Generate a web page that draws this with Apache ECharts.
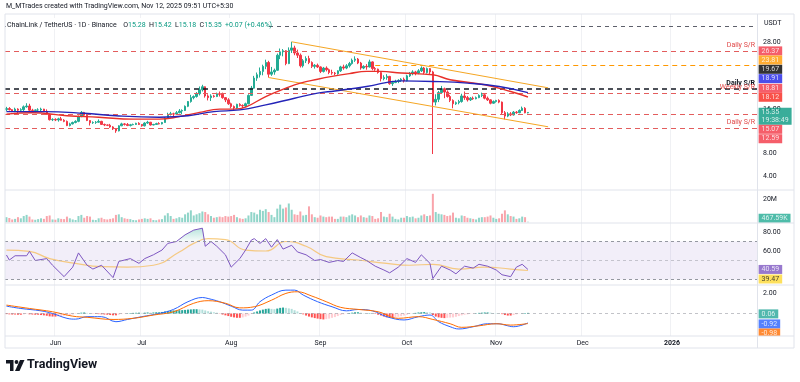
<!DOCTYPE html>
<html><head><meta charset="utf-8">
<script src="https://cdn.jsdelivr.net/npm/echarts@6/dist/echarts.min.js"></script>
<style>html,body{margin:0;padding:0;background:#fff}#c{width:800px;height:382px}</style>
</head><body><div id="c"></div>
<script>
// ---------- DATA ----------
const startDate = '2025-05-15';
const totalDays = 261; // category slots May 15 2025 -> Jan 30 2026
// [open, high, low, close] daily candles May 15 .. Nov 12 2025
const ohlc = [
[15.85,16.35,15.6,16.05],[16.05,16.3,15.7,15.85],[15.85,15.95,15.4,15.6],[15.6,16.2,15.4,15.95],[15.95,16.1,15.2,15.75],
[15.75,16.1,15.5,15.85],[15.85,16.6,15.6,16.35],[16.35,17.0,16.2,16.5],[16.5,16.9,15.6,15.75],[15.75,16.0,15.5,15.7],
[15.7,15.9,15.3,15.8],[15.8,16.1,15.6,15.8],[15.8,16.2,15.5,15.95],[15.95,16.0,15.4,15.55],[15.55,15.9,14.9,15.0],
[15.0,15.1,13.9,14.05],[14.05,14.3,13.8,14.1],
[14.1,14.3,13.8,14.0],[14.0,14.4,13.7,14.2],[14.2,14.55,13.9,13.95],[13.95,14.15,13.6,13.75],[13.75,13.9,12.9,13.0],
[13.0,13.5,12.85,13.3],[13.3,13.7,13.2,13.55],[13.55,13.95,13.4,13.75],[13.75,14.8,13.6,14.6],[14.6,15.6,14.5,15.35],
[15.35,15.45,14.7,14.85],[14.85,14.95,13.8,13.9],[13.9,13.95,13.0,13.5],[13.5,13.75,13.3,13.55],[13.55,13.8,13.3,13.6],
[13.6,14.1,13.5,13.75],[13.75,13.85,13.1,13.2],[13.2,13.35,12.9,13.1],[13.1,13.2,12.9,13.05],[13.05,13.3,12.6,12.75],
[12.75,12.9,12.2,12.4],[12.4,12.5,11.7,12.05],[12.05,13.05,11.95,12.95],[12.95,13.5,12.9,13.3],[13.3,13.45,13.0,13.2],
[13.2,13.45,12.9,13.0],[13.0,13.3,12.85,13.15],[13.15,13.35,13.05,13.2],[13.2,13.5,13.1,13.4],[13.4,13.6,13.1,13.2],
[13.2,13.25,12.8,12.95],[12.95,13.6,12.85,13.45],[13.45,13.85,13.3,13.6],[13.6,13.65,13.0,13.1],[13.1,13.3,13.05,13.2],
[13.2,13.5,13.1,13.35],[13.35,13.6,13.2,13.3],[13.3,13.65,13.2,13.55],[13.55,14.5,13.5,14.35],[14.35,15.3,14.2,15.0],
[15.0,15.45,14.8,15.1],[15.1,15.3,14.7,15.05],[15.05,15.6,14.9,15.3],[15.3,15.95,15.2,15.6],[15.6,15.9,15.0,15.7],
[15.7,16.6,15.6,16.45],[16.45,17.4,16.3,17.3],[17.3,18.5,17.1,18.0],[18.0,18.4,17.7,18.2],[18.2,19.0,18.0,18.7],
[18.7,20.0,18.4,19.4],[19.4,20.3,19.1,19.95],[19.95,20.0,18.0,18.3],[18.3,18.6,17.5,18.0],[18.0,18.6,17.4,18.3],
[18.3,18.5,18.0,18.2],[18.2,18.9,18.1,18.7],[18.7,19.1,18.2,18.6],[18.6,18.9,17.8,18.0],[18.0,18.1,17.2,17.6],
[17.6,17.9,16.7,16.9],
[16.9,17.1,16.1,16.4],[16.4,16.6,15.8,16.15],[16.15,16.9,16.0,16.8],[16.8,17.0,16.4,16.6],[16.6,16.8,16.1,16.5],
[16.5,17.1,16.3,16.9],[16.9,18.6,16.8,18.4],[18.4,20.1,18.3,19.7],[19.7,21.9,19.6,21.5],[21.5,22.5,21.0,22.1],
[22.1,23.4,21.6,22.7],[22.7,23.9,22.0,23.6],[23.6,24.8,23.1,24.3],[24.3,24.6,21.6,22.2],[22.2,23.5,21.9,22.6],
[22.6,23.2,22.1,22.9],[22.9,25.9,22.8,25.6],[25.6,26.8,24.9,26.2],[26.2,26.7,25.4,26.4],[26.4,26.5,23.8,24.1],
[24.1,27.0,24.0,26.5],[26.5,28.0,26.0,26.9],[26.9,27.3,25.6,26.0],[26.0,26.6,25.1,25.6],[25.6,25.9,23.4,23.7],
[23.7,24.9,23.4,24.6],[24.6,25.4,24.2,25.0],[25.0,25.5,24.0,24.3],[24.3,24.5,23.3,23.6],[23.6,24.0,23.2,23.8],
[23.8,24.1,23.3,23.5],
[23.5,23.6,22.4,22.7],[22.7,23.5,22.5,23.3],[23.3,23.6,22.7,23.0],[23.0,23.2,22.2,22.5],[22.5,23.0,22.1,22.4],
[22.4,22.6,22.0,22.3],[22.3,22.9,22.1,22.8],[22.8,23.7,22.6,23.5],[23.5,23.9,23.0,23.3],[23.3,24.0,23.1,23.7],
[23.7,24.4,23.4,24.1],[24.1,25.0,23.9,24.7],[24.7,25.4,24.4,24.9],[24.9,25.1,24.0,24.2],[24.2,24.4,23.0,23.3],
[23.3,23.8,23.1,23.6],[23.6,24.0,23.0,23.5],[23.5,24.8,23.4,24.4],[24.4,24.5,22.9,23.2],[23.2,23.5,22.8,23.1],
[23.1,23.2,22.3,22.5],[22.5,22.6,20.9,21.4],[21.4,22.0,21.1,21.6],[21.6,22.2,21.2,21.8],[21.8,21.9,20.3,20.5],
[20.5,21.0,20.1,20.7],[20.7,21.2,20.6,20.9],[20.9,21.3,20.6,21.1],[21.1,21.5,20.8,21.3],[21.3,21.6,20.7,21.0],
[21.0,22.1,20.9,21.9],[21.9,22.6,21.7,22.3],[22.3,22.9,22.0,22.6],[22.6,22.8,22.0,22.4],[22.4,23.1,22.2,22.8],
[22.8,23.6,22.6,23.3],[23.3,23.5,22.2,22.5],[22.5,23.4,22.3,23.2],[23.2,23.3,22.1,22.6],[22.6,22.8,7.9,17.2],
[17.2,18.6,16.6,17.7],[17.7,19.2,17.2,18.9],[18.9,20.1,18.7,19.6],[19.6,19.8,17.9,19.0],[19.0,19.3,18.0,18.2],
[18.2,18.5,17.2,17.5],[17.5,17.7,16.1,16.9],[16.9,17.3,16.7,17.1],[17.1,17.6,16.8,17.3],[17.3,18.7,17.1,18.3],
[18.3,19.1,17.6,18.0],[18.0,18.3,17.3,17.6],[17.6,18.1,17.4,17.9],[17.9,18.2,17.6,17.8],[17.8,18.2,17.7,18.0],
[18.0,18.6,17.9,18.4],[18.4,18.9,18.1,18.5],[18.5,18.7,17.7,17.9],[17.9,18.2,17.4,17.6],[17.6,17.7,16.8,17.0],
[17.0,17.5,16.9,17.3],
[17.3,17.6,17.1,17.5],[17.5,17.7,17.0,17.2],[17.2,17.3,15.0,15.3],[15.3,15.6,14.1,14.7],[14.7,15.4,14.5,15.1],
[15.1,15.4,14.7,14.9],[14.9,15.6,14.8,15.4],[15.4,15.6,15.1,15.3],[15.3,15.9,15.2,15.7],[15.7,16.4,15.6,16.1],
[16.1,16.3,15.2,15.28],[15.28,15.42,15.18,15.35]
];
// daily volume (millions of LINK)
const volumeM = [
4.5,3.8,2.5,3.0,4.5,3.5,5.5,6.5,5.0,2.5,2.2,2.8,3.5,3.0,5.5,6.0,2.5,
2.3,3.5,3.0,2.8,5.0,3.5,2.5,2.0,5.5,6.5,4.0,5.5,5.0,2.2,2.0,3.5,4.0,2.8,2.5,3.0,3.5,6.5,7.0,4.5,3.5,3.0,2.8,2.0,1.8,2.5,
3.0,3.5,3.0,3.5,2.0,1.8,2.5,2.8,6.0,8.0,5.5,3.0,3.5,4.5,4.0,7.0,8.5,10.5,6.0,7.0,8.0,9.5,9.0,7.0,5.5,4.0,4.5,5.0,4.5,5.5,5.0,
5.5,6.5,4.5,3.5,3.0,3.5,6.0,9.0,8.5,7.0,11.0,10.0,11.5,9.0,6.5,4.5,12.0,15.5,12.0,13.0,16.5,11.0,7.0,6.5,9.5,6.0,6.5,14.0,7.0,4.5,4.0,
6.0,5.0,4.5,5.0,5.0,3.0,3.0,5.0,5.0,4.5,6.0,7.0,6.0,4.5,6.0,4.5,4.0,6.0,5.5,3.0,3.5,9.0,5.0,4.5,7.5,5.0,3.0,2.5,4.0,4.0,
5.5,4.5,5.0,3.5,4.0,6.0,7.0,5.5,6.0,25.0,9.0,7.5,7.0,6.5,5.5,6.0,8.5,4.0,3.5,6.0,5.5,4.0,3.5,3.0,2.5,4.0,4.5,4.5,5.0,6.0,4.0,
3.0,3.5,7.5,10.5,7.0,5.5,5.0,3.0,3.5,5.0,4.5,0.47
];
// MACD histogram, daily
const histogram = [
-0.06,-0.08,-0.1,-0.1,-0.12,-0.12,-0.08,-0.05,-0.08,-0.1,-0.12,-0.12,
-0.15,-0.18,-0.22,-0.28,-0.3,-0.3,-0.28,-0.25,-0.22,-0.2,
-0.15,-0.1,-0.05,0.02,0.08,0.1,0.06,0.02,-0.02,-0.04,
-0.06,-0.08,-0.1,-0.12,-0.15,-0.18,-0.18,-0.12,
-0.06,-0.02,0.02,0.05,0.06,0.07,0.08,0.06,0.08,0.1,0.08,0.1,
0.12,0.12,0.15,0.2,0.25,0.28,0.3,0.3,0.32,0.33,0.35,0.38,0.4,0.42,0.42,0.4,0.38,
0.3,0.22,0.18,0.12,0.08,
-0.02,-0.1,-0.18,-0.25,-0.32,-0.38,-0.42,-0.42,-0.38,-0.3,-0.2,
-0.05,0.1,0.2,0.3,0.38,0.45,0.48,0.45,0.42,0.48,0.55,0.58,0.55,0.5,0.45,
0.32,0.2,0.05,-0.08,-0.2,-0.3,-0.38,-0.45,-0.5,-0.55,-0.58,-0.55,-0.5,-0.42,-0.35,-0.25,
-0.15,-0.08,-0.02,0.04,0.08,0.12,0.12,0.08,0.04,0.02,0.04,0.02,
-0.05,-0.12,-0.2,-0.3,-0.38,-0.42,-0.42,-0.38,-0.32,-0.26,-0.2,-0.12,-0.05,0.02,
0.06,0.1,0.12,0.14,0.12,0.1,
-0.15,-0.3,-0.38,-0.42,-0.45,-0.42,-0.4,-0.38,-0.32,-0.25,-0.18,-0.12,-0.08,-0.04,-0.02,
0.03,0.06,0.08,0.1,0.1,0.08,0.05,0.03,0.01,
-0.06,-0.15,-0.2,-0.2,-0.15,
-0.08,-0.02,0.02,0.05,0.06
];
// moving averages read at sample days: [dayIndex, value]
const redMA = [[0,15.05],[9,15.3],[21,14.75],[32,14.5],[44,14.15],[53,14.15],[60,14.6],[67,15.35],[74,15.95],[79,15.95],[83,16.3],[90,18.2],[97,19.7],[102,20.6],[108,21.3],[113,21.8],[119,22.3],[125,22.7],[130,22.7],[137,22.4],[148,22.1],[154,21.2],[166,20.3],[175,19.1],[181,18.12]];
const blueMA = [[0,15.5],[13,15.5],[27,15.2],[38,14.75],[53,14.5],[63,14.75],[72,15.5],[81,15.8],[90,16.7],[100,17.9],[108,18.8],[114,19.2],[125,20.0],[137,21.0],[148,20.9],[160,20.6],[171,20.0],[181,18.91]];
const rsiPts = [[0,55.8],[1,50.5],[3,55],[7,55],[8,59.6],[10,50],[14,52],[16,45],[20,33],[23,43],[25,58],[28,45],[30,41],[33,45],[37,32],[39,49],[43,52],[46,47],[48,52],[51,56],[54,61],[56,68],[59,70],[62,77],[65,82],[68,84],[69,65],[71,70],[73,65],[76,56],[78,43],[81,52],[83,61],[85,71.5],[86,73],[88,68],[90,73],[92,64],[94,72],[96,62],[99,66],[101,59],[104,56],[107,50],[109,51],[112,48],[115,50],[117,49],[120,58],[123,53],[125,50],[128,44],[131,40],[133,37],[136,43],[139,52],[142,48],[144,56],[147,47],[148,31],[151,44],[154,40],[156,36],[159,44],[162,42],[164,46],[167,44],[170,40],[172,35],[175,33],[177,43],[179,46],[181,40.59]];
const rsiOverbought = [[59,70],[62,77],[65,82],[68,84],[69,70]];
const rsiMaPts = [[0,61],[8,59.6],[15,52],[24,47],[33,43.5],[42,43],[51,45],[60,59],[65,68],[70,73],[76,72],[83,61],[90,60],[97,70],[104,65],[111,54],[122,50.5],[132,47],[140,45],[148,46],[157,41],[166,43],[175,41],[181,39.47]];
const macdPts = [[0,0.72],[5,0.49],[12,0.26],[16,0],[21,-0.47],[24,-0.55],[28,-0.31],[33,-0.31],[38,-0.8],[42,-0.58],[47,-0.31],[53,0],[58,0.4],[63,1.15],[68,1.56],[70,1.46],[74,1.15],[78,0.72],[82,0.33],[85,0.33],[88,1.15],[92,1.8],[97,2.28],[100,2.28],[103,1.8],[108,1.15],[113,0.66],[118,0.26],[122,0.39],[127,0.26],[132,-0.31],[138,-0.63],[143,-0.31],[147,-0.15],[150,-0.8],[154,-1.29],[157,-1.51],[162,-1.29],[167,-1.0],[171,-1.0],[173,-1.13],[176,-1.29],[181,-0.92]];
const signalPts = [[0,0.82],[8,0.49],[16,0.17],[23,-0.26],[28,-0.37],[37,-0.58],[44,-0.47],[51,-0.15],[58,0.17],[65,1.0],[70,1.25],[76,1.0],[81,0.55],[86,0.66],[92,1.3],[97,1.96],[101,2.12],[106,1.7],[111,1.15],[116,0.6],[122,0.4],[129,0.17],[136,-0.47],[143,-0.31],[148,-0.58],[154,-1.0],[158,-1.35],[164,-1.2],[170,-1.0],[175,-1.13],[181,-0.98]];
// horizontal levels
const levelValues = [30.83, 26.37, 19.67, 18.81, 15.07, 12.59];
const levelNames  = ['', 'Daily S/R', 'Daily S/R', 'Weekly S/R', '', 'Daily S/R'];
const orangeLevel = {from: 128, value: 23.81};
// channel lines [dayIndex, price]
const channelUpper = [[99, 28.0], [188, 19.76]];
const channelLower = [[91, 21.6], [188, 12.78]];
// right-scale tags
const priceTags = [26.37, 23.81, 19.67, 18.91, 18.81, 18.12, 15.35, 15.07, 12.59];
const lastVolume = '467.59K';
const rsiTags = [40.59, 39.47];
const macdTags = [0.06, -0.92, -0.98];
const priceTicks = [28, 16, 8, 4];

// ---------- BUILD ----------
const FONT = 'Roboto, "Noto Sans", sans-serif';
const dates = [];
const d0 = Date.UTC(2025, 4, 15);
for (let i = 0; i < totalDays; i++) dates.push(new Date(d0 + i * 86400000).toISOString().slice(0, 10));
const MON = ['Jan','Feb','Mar','Apr','May','Jun','Jul','Aug','Sep','Oct','Nov','Dec'];
const monthStart = (idx, val) => val.slice(8) === '01';
const pts = arr => arr.map(p => [dates[p[0]], p[1]]);

const UP = '#22ab94', DOWN = '#f23645';
const candleData = ohlc.map(r => [r[0], r[3], r[2], r[1]]);
const volData = volumeM.map((v, i) => ({value: v, itemStyle: {color: ohlc[i][3] >= ohlc[i][0] ? 'rgba(34,171,148,0.5)' : 'rgba(242,54,69,0.45)'}}));
const histData = histogram.map((v, i) => {
  const p = i > 0 ? histogram[i - 1] : v;
  const c = v >= 0 ? (v >= p ? '#26a69a' : '#b2dfdb') : (v <= p ? '#ff5252' : '#ffcdd2');
  return {value: v, itemStyle: {color: c}};
});

const levelStyles = [
  {color: '#5d606b', width: 1, type: [4, 4]},
  {color: '#e35d5d', width: 1, type: [5, 4]},
  {color: '#131722', width: 1.6, type: [5, 4]},
  {color: '#e35d5d', width: 1, type: [5, 4]},
  {color: '#e35d5d', width: 1, type: [5, 4]},
  {color: '#e35d5d', width: 1, type: [5, 4]}
];
const levelLabelStyles = [null,
  {color: '#e04848'}, {color: '#131722', fontWeight: 'bold'}, {color: '#e04848'}, null, {color: '#e04848'}];
const markLineData = levelValues.map((v, i) => {
  const it = {yAxis: v, lineStyle: levelStyles[i]};
  if (levelNames[i]) it.label = Object.assign({show: true, position: 'insideEndTop', distance: 2, formatter: levelNames[i], fontSize: 7, fontFamily: FONT}, levelLabelStyles[i]);
  return it;
});
markLineData.push([{coord: [dates[orangeLevel.from], orangeLevel.value], lineStyle: {color: '#ff9800', width: 1, type: [5, 4]}}, {coord: [dates[totalDays - 1], orangeLevel.value]}]);
markLineData.push([{coord: [dates[channelUpper[0][0]], channelUpper[0][1]], lineStyle: {color: '#f5a623', width: 1, type: 'solid'}}, {coord: [dates[channelUpper[1][0]], channelUpper[1][1]]}]);
markLineData.push([{coord: [dates[channelLower[0][0]], channelLower[0][1]], lineStyle: {color: '#f5a623', width: 1, type: 'solid'}}, {coord: [dates[channelLower[1][0]], channelLower[1][1]]}]);

function tagSeries(xi, yi, items) {
  return {type: 'scatter', xAxisIndex: xi, yAxisIndex: yi, symbolSize: 0.1, silent: true, clip: false, z: 20,
    itemStyle: {color: 'rgba(0,0,0,0)'}, animation: false,
    data: items.map(t => ({value: [dates[totalDays - 1], t.v],
      label: {show: true, position: 'right', distance: 3, formatter: t.text, backgroundColor: t.bg, color: t.fg || '#fff',
        padding: [1, 3, 0, 3], fontSize: 7, fontFamily: FONT, lineHeight: 8, offset: [0, t.dy], align: 'left'}}))};
}
const priceTagStyle = [
  {bg: '#f23645', dy: 0}, {bg: '#ff9800', dy: -5.2}, {bg: '#000000', dy: -19}, {bg: '#1e22e6', dy: -13.9},
  {bg: '#f23645', dy: -4.8}, {bg: '#f7251c', dy: 0.3}, {bg: '#089981', dy: 3.9, extra: '\n19:38:49'},
  {bg: '#f23645', dy: 15.3}, {bg: '#f23645', dy: 10.9}];
const priceTagItems = priceTags.map((v, i) => ({v, text: v.toFixed(2) + (priceTagStyle[i].extra || ''), bg: priceTagStyle[i].bg, dy: priceTagStyle[i].dy}));
const volTagItems = [{v: volumeM[volumeM.length - 1], text: lastVolume, bg: '#22ab94', dy: -3.5}];
const rsiTagItems = [{v: rsiTags[0], text: rsiTags[0].toFixed(2), bg: '#7e57c2', dy: 0}, {v: rsiTags[1], text: rsiTags[1].toFixed(2), bg: '#fdd835', fg: '#131722', dy: 8.5}];
const macdTagItems = [{v: macdTags[0], text: macdTags[0].toFixed(2), bg: '#26a69a', dy: 1}, {v: macdTags[1], text: macdTags[1].toFixed(2), bg: '#2962ff', dy: 1}, {v: macdTags[2], text: macdTags[2].toFixed(2), bg: '#ff6d00', dy: 9.5}];

const L = 5, W = 752;
const grids = [
  {left: L, width: W, top: 19.47, height: 178.67},
  {left: L, width: W, top: 190.4, height: 31.9},
  {left: L, width: W, top: 222.5, height: 66.5},
  {left: L, width: W, top: 272.5, height: 82},
  {left: L, width: W, top: 14, height: 322}
];
const hiddenX = i => ({type: 'category', gridIndex: i, data: dates, show: false, boundaryGap: true});
const lab = (fmt) => ({show: true, fontSize: 7, fontFamily: FONT, color: '#131722', margin: 6, align: 'left', formatter: fmt});
const yBase = (i, min, max, interval, fmt) => ({type: 'value', gridIndex: i, position: 'right', min, max, interval, scale: false,
  axisLine: {show: false}, axisTick: {show: false}, splitLine: {show: false}, axisLabel: lab(fmt)});

const option = {
  animation: false,
  backgroundColor: '#ffffff',
  grid: grids,
  xAxis: [hiddenX(0), hiddenX(1), hiddenX(2), hiddenX(3),
    {type: 'category', gridIndex: 4, data: dates, boundaryGap: true, axisLine: {show: false}, axisTick: {show: false},
     axisLabel: {interval: monthStart, fontSize: 7, fontFamily: FONT, color: '#131722', margin: 4,
       formatter: v => { const m = +v.slice(5, 7); return m === 1 ? '{y|' + v.slice(0, 4) + '}' : MON[m - 1]; },
       rich: {y: {fontWeight: 'bold', fontSize: 7, fontFamily: FONT, color: '#131722'}}},
     splitLine: {show: true, interval: monthStart, lineStyle: {color: '#f0f1f4', width: 1}}}],
  yAxis: [
    yBase(0, 0, 32, 4, v => priceTicks.includes(v) ? v.toFixed(2) : ''),
    yBase(1, 0, 28, 4, v => v === 20 ? '20M' : ''),
    yBase(2, 20, 90, 20, v => (v === 60 || v === 80) ? v.toFixed(2) : ''),
    yBase(3, -4, 4, 2, v => v === 2 ? '2.00' : ''),
    {type: 'value', gridIndex: 4, show: false, min: 0, max: 1}
  ],
  series: [
    {type: 'candlestick', xAxisIndex: 0, yAxisIndex: 0, data: candleData, barWidth: 2,
      itemStyle: {color: UP, color0: DOWN, borderColor: UP, borderColor0: DOWN, borderWidth: 1},
      markLine: {symbol: ['none', 'none'], silent: true, animation: false, label: {show: false}, data: markLineData}},
    {type: 'line', xAxisIndex: 0, yAxisIndex: 0, data: pts(redMA), smooth: 0.45, showSymbol: false, lineStyle: {color: '#e8302a', width: 1.4}, z: 5},
    {type: 'line', xAxisIndex: 0, yAxisIndex: 0, data: pts(blueMA), smooth: 0.45, showSymbol: false, lineStyle: {color: '#2424b8', width: 1.4}, z: 5},
    {type: 'bar', xAxisIndex: 1, yAxisIndex: 1, data: volData, barWidth: 2},
    {type: 'line', xAxisIndex: 2, yAxisIndex: 2, data: pts(rsiOverbought), showSymbol: false, lineStyle: {width: 0},
      areaStyle: {origin: 70, color: {type: 'linear', x: 0, y: 0, x2: 0, y2: 1, colorStops: [{offset: 0, color: 'rgba(34,171,148,0.45)'}, {offset: 1, color: 'rgba(34,171,148,0.05)'}]}}},
    {type: 'line', xAxisIndex: 2, yAxisIndex: 2, data: pts(rsiMaPts), smooth: 0.5, showSymbol: false, lineStyle: {color: 'rgba(245,188,90,0.75)', width: 1.2}},
    {type: 'line', xAxisIndex: 2, yAxisIndex: 2, data: pts(rsiPts), showSymbol: false, lineStyle: {color: '#7e57c2', width: 1},
      markArea: {silent: true, itemStyle: {color: 'rgba(126,87,194,0.1)'}, data: [[{yAxis: 30}, {yAxis: 70}]]},
      markLine: {symbol: ['none', 'none'], silent: true, label: {show: false},
        data: [{yAxis: 70, lineStyle: {color: '#9598a1', type: [3, 3], width: 1}}, {yAxis: 50, lineStyle: {color: 'rgba(149,152,161,0.5)', type: [3, 3], width: 1}}, {yAxis: 30, lineStyle: {color: '#9598a1', type: [3, 3], width: 1}}]}},
    {type: 'bar', xAxisIndex: 3, yAxisIndex: 3, data: histData, barWidth: 2,
      markLine: {symbol: ['none', 'none'], silent: true, label: {show: false}, data: [{yAxis: 0, lineStyle: {color: 'rgba(120,123,134,0.45)', type: [3, 3], width: 1}}]}},
    {type: 'line', xAxisIndex: 3, yAxisIndex: 3, data: pts(macdPts), smooth: 0.4, showSymbol: false, lineStyle: {color: '#2962ff', width: 1}},
    {type: 'line', xAxisIndex: 3, yAxisIndex: 3, data: pts(signalPts), smooth: 0.4, showSymbol: false, lineStyle: {color: '#ff6d00', width: 1}},
    {type: 'line', xAxisIndex: 4, yAxisIndex: 4, data: []},
    tagSeries(0, 0, priceTagItems),
    tagSeries(1, 1, volTagItems),
    tagSeries(2, 2, rsiTagItems),
    tagSeries(3, 3, macdTagItems)
  ],
  graphic: [
    {type: 'rect', z: 50, shape: {x: 757.5, y: 336, width: 36, height: 12}, style: {fill: '#fff'}},
    {type: 'rect', z: 60, shape: {x: 5, y: 14, width: 789, height: 334}, style: {fill: 'none', stroke: '#e0e3eb', lineWidth: 1}},
    {type: 'line', z: 60, shape: {x1: 5, y1: 190, x2: 794, y2: 190}, style: {stroke: '#e0e3eb', lineWidth: 1}},
    {type: 'line', z: 60, shape: {x1: 5, y1: 223, x2: 794, y2: 223}, style: {stroke: '#e0e3eb', lineWidth: 1}},
    {type: 'line', z: 60, shape: {x1: 5, y1: 285, x2: 794, y2: 285}, style: {stroke: '#e0e3eb', lineWidth: 1}},
    {type: 'line', z: 60, shape: {x1: 5, y1: 336, x2: 794, y2: 336}, style: {stroke: '#e0e3eb', lineWidth: 1}},
    {type: 'line', z: 60, shape: {x1: 757.5, y1: 14, x2: 757.5, y2: 348}, style: {stroke: '#e0e3eb', lineWidth: 1}},
    {type: 'text', z: 70, left: 6, top: 3, style: {text: 'M_MTrades created with TradingView.com, Nov 12, 2025 09:51 UTC+5:30', fontSize: 7, fontFamily: FONT, fill: '#131722'}},
    {type: 'rect', z: 65, shape: {x: 6, y: 18, width: 260, height: 11}, style: {fill: '#fff'}},
    {type: 'text', z: 70, left: 7, top: 19, style: {
      text: '{a|ChainLink / TetherUS · 1D · Binance}  {a|O}{b|15.28} {a|H}{b|15.42} {a|L}{b|15.18} {a|C}{b|15.35} {b|+0.07 (+0.46%)}',
      rich: {a: {fontSize: 7, fontFamily: FONT, fill: '#131722'}, b: {fontSize: 7, fontFamily: FONT, fill: '#089981'}}}},
    {type: 'text', z: 70, left: 764, top: 20, style: {text: 'USDT', fontSize: 7, fontFamily: FONT, fill: '#131722'}},
    {type: 'polygon', z: 70, shape: {points: [[6, 360], [13.5, 360], [13.5, 371], [10, 371], [10, 363.5], [6, 363.5]]}, style: {fill: '#131722'}},
    {type: 'circle', z: 70, shape: {cx: 16.5, cy: 362, r: 1.9}, style: {fill: '#131722'}},
    {type: 'polygon', z: 70, shape: {points: [[20, 360], [24.5, 360], [19.5, 371], [15, 371]]}, style: {fill: '#131722'}},
    {type: 'text', z: 70, left: 27, top: 358, style: {text: 'TradingView', fontSize: 12.5, fontWeight: 'bold', fontFamily: FONT, fill: '#131722'}}
  ]
};
const chart = echarts.init(document.getElementById('c'), null, {renderer: 'canvas'});
chart.setOption(option);
</script></body></html>
